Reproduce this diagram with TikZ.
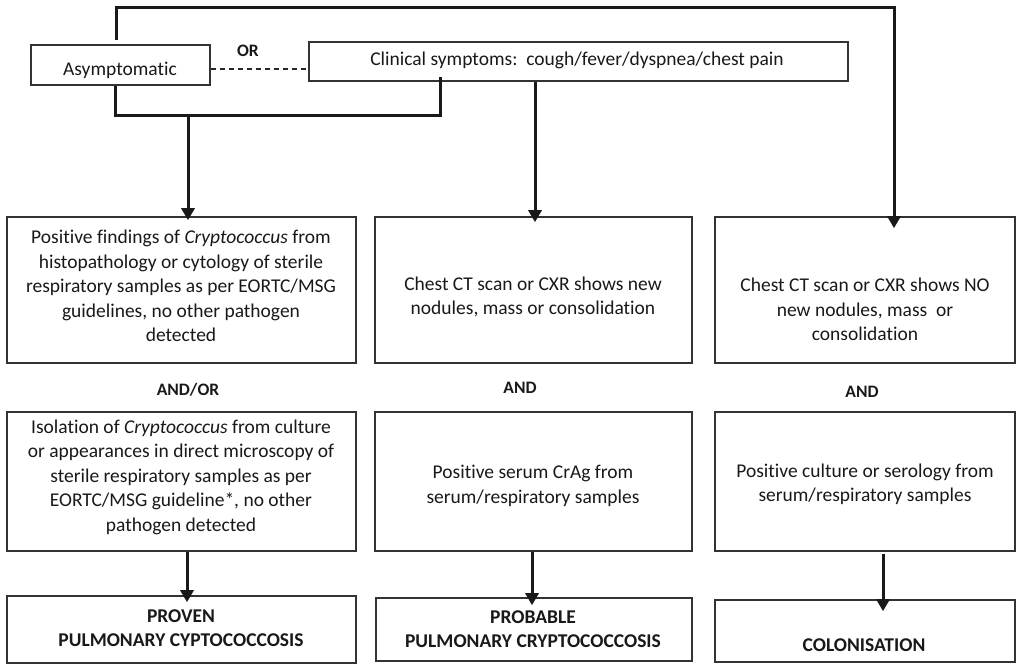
\documentclass[tikz,border=0pt]{standalone}
\usepackage{fontspec}
\setmainfont[Ligatures=NoCommon]{Carlito}
\usetikzlibrary{arrows.meta}
\begin{document}
\begin{tikzpicture}[x=1pt,y=-1pt,
  box/.style={draw=black!80, line width=1.6pt, inner sep=0pt, fill=white},
  txt/.style={align=center, inner sep=0pt, font=\fontsize{19.5}{24.5}\selectfont, text=black!90},
  lbl/.style={inner sep=0pt, font=\fontsize{17.5}{20}\selectfont\bfseries, text=black!90},
  conn/.style={line width=3pt, black!90},
  arr/.style={conn, -{Triangle[length=12pt,width=13pt]}}
]
\useasboundingbox (0,0) rectangle (1024,671);
% top boxes
\node[box, minimum width=179pt, minimum height=40pt] (asym) at (120.5,65) {};
\node[txt, anchor=base] (asymt) at (120,76) {Asymptomatic};
\node[box, minimum width=539pt, minimum height=39pt] (clin) at (578.5,61.5) {};
\node[txt, anchor=base] (clint) at (577,66) {Clinical symptoms:\ \ cough/fever/dyspnea/chest pain};
\node[lbl, anchor=base] (or) at (248,57) {OR};
\draw[line width=1.5pt, black!85, dash pattern=on 5pt off 4pt] (asym.east |- 0,69) -- (clin.west |- 0,69);
% row 1
\node[box, minimum width=349pt, minimum height=146pt] (p1) at (181.5,290) {};
\node[box, minimum width=317pt, minimum height=146pt] (b1) at (533.5,290) {};
\node[box, minimum width=300pt, minimum height=146pt] (c1) at (865,290) {};
\node[txt] (p1t) at (181,286) {Positive findings of \textit{Cryptococcus}\ from\\histopathology or cytology of sterile\\respiratory samples as per EORTC/MSG\\guidelines, no other pathogen\\detected};
\node[txt] (b1t) at (533,297) {Chest CT scan or CXR shows new\\nodules, mass or consolidation};
\node[txt] (c1t) at (865,309.5) {Chest CT scan or CXR shows NO\\new nodules, mass\ \ or\\consolidation};
% labels
\node[lbl] (andor) at (188,390) {AND/OR};
\node[lbl] (and1) at (520,388) {AND};
\node[lbl] (and2) at (862,392) {AND};
% row 2
\node[box, minimum width=349pt, minimum height=139pt] (p2) at (181.5,481.5) {};
\node[box, minimum width=317pt, minimum height=139pt] (b2) at (533.5,481.5) {};
\node[box, minimum width=300pt, minimum height=139pt] (c2) at (865,481.5) {};
\node[txt] (p2t) at (181,477) {Isolation of \textit{Cryptococcus}\ from culture\\or appearances in direct microscopy of\\sterile respiratory samples as per\\EORTC/MSG guideline*, no other\\pathogen detected};
\node[txt] (b2t) at (533,486) {Positive serum CrAg from\\serum/respiratory samples};
\node[txt] (c2t) at (865,484.5) {Positive culture or serology from\\serum/respiratory samples};
% row 3
\node[box, minimum width=349pt, minimum height=67pt] (p3) at (181.5,629.5) {};
\node[box, minimum width=316pt, minimum height=63pt] (b3) at (534,629.5) {};
\node[box, minimum width=300pt, minimum height=62pt] (c3) at (865,631) {};
\node[txt, font=\fontsize{19.5}{24}\selectfont\bfseries] (p3t) at (181,628.5) {PROVEN\\PULMONARY CYPTOCOCCOSIS};
\node[txt, font=\fontsize{19.5}{24}\selectfont\bfseries] (b3t) at (533,629) {PROBABLE\\PULMONARY CRYPTOCOCCOSIS};
\node[txt, font=\fontsize{19.5}{24}\selectfont\bfseries] (c3t) at (864,645) {COLONISATION};
% connectors
\coordinate (topL) at (116,40);
\coordinate (brL) at (115,116);
\coordinate (brR) at (440,116);
\coordinate (brM) at (188,116);
\draw[arr] (topL) -- (116,8) -| ([yshift=-12pt]c1.north -| 894,0);
\draw[conn] (asym.south -| brL) -- (brL) -- (brR) -- ([yshift=5pt]clin.south -| brR);
\draw[arr] (brM) -- ([yshift=-4pt]p1.north -| brM);
\draw[arr] (clin.south -| 535,0) -- ([yshift=-6pt]b1.north -| 535,0);
\draw[arr] (p2.south -| 187,0) -- ([yshift=-7pt]p3.north -| 187,0);
\draw[arr] (b2.south -| 532,0) -- ([yshift=-8pt]b3.north -| 532,0);
\draw[arr] ([yshift=-2pt]c2.south -| 883,0) -- ([yshift=-12pt]c3.north -| 883,0);
\end{tikzpicture}
\end{document}
